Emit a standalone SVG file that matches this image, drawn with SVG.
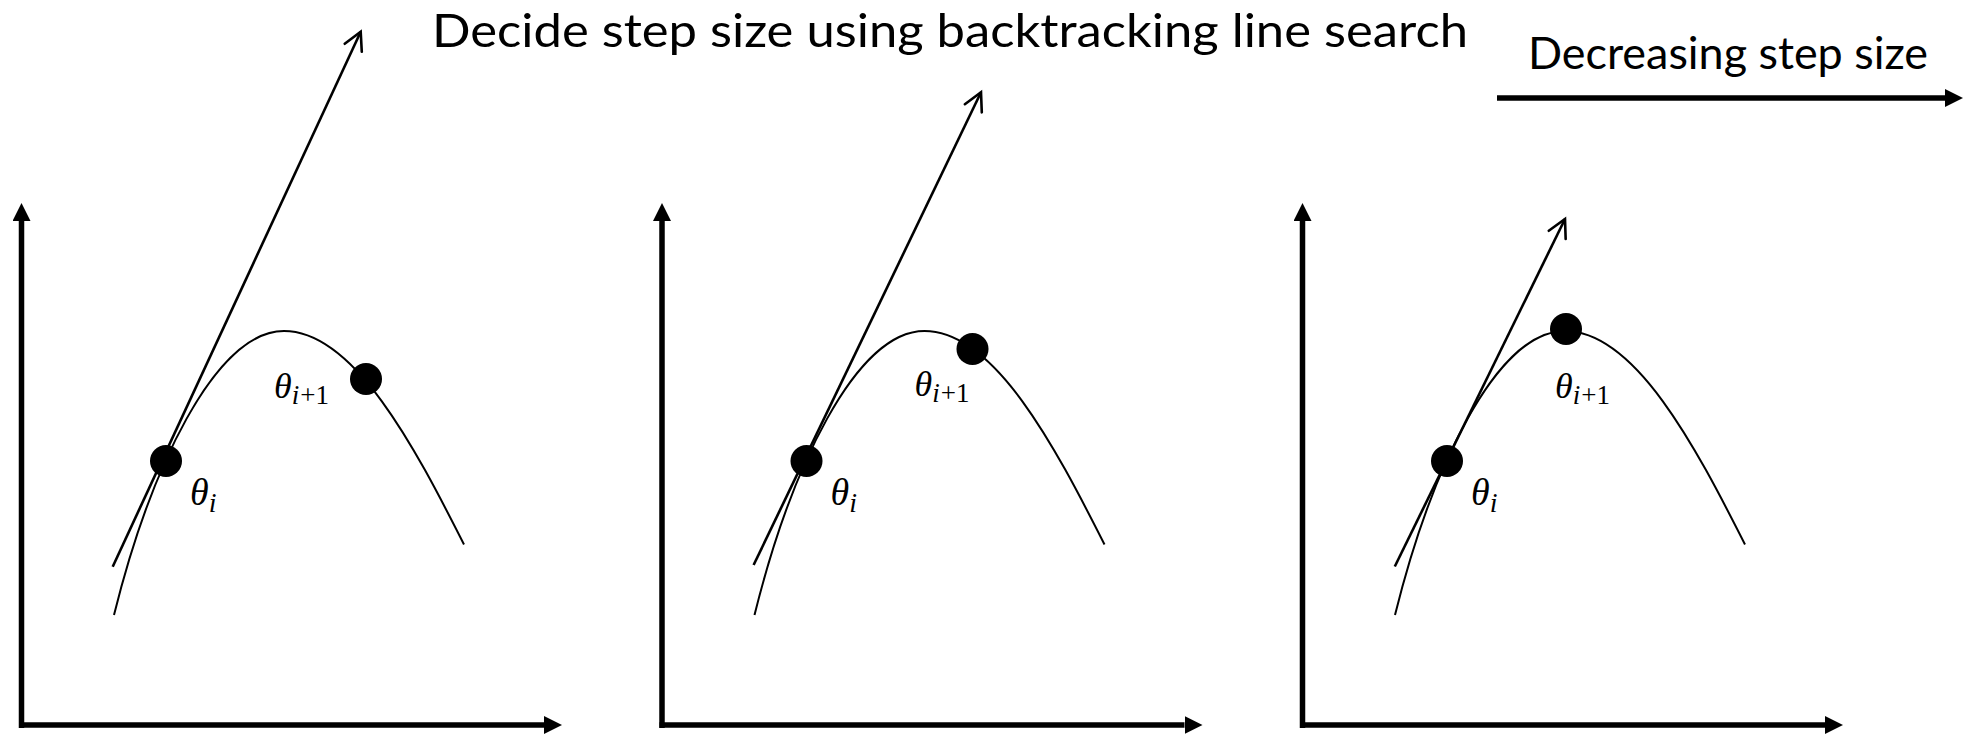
<svg xmlns="http://www.w3.org/2000/svg" width="1967" height="734" viewBox="0 0 1967 734">
<defs>
<style>
.axis{stroke:#000;stroke-width:5.5;fill:none}
.tan{stroke:#000;stroke-width:2.6;fill:none}
.curve{stroke:#000;stroke-width:2;fill:none}
.dot{fill:#000}
.title{font-family:Lato,"Open Sans",sans-serif;fill:#000}
.math{font-family:"Liberation Serif","DejaVu Serif",serif;font-style:italic;fill:#000}
.up{font-style:normal}
</style>
<marker id="fa" viewBox="0 0 18 18" refX="0" refY="9" markerWidth="18" markerHeight="18" markerUnits="userSpaceOnUse" orient="auto">
<path d="M0,0 L18,9 L0,18 z" fill="#000"/>
</marker>
<marker id="oa" viewBox="-22 -12 26 24" refX="0" refY="0" markerWidth="26" markerHeight="24" markerUnits="userSpaceOnUse" orient="auto">
<path d="M-17.7,-9.4 L0,0 L-17.7,9.4" fill="none" stroke="#000" stroke-width="2.6" stroke-linecap="round" stroke-linejoin="miter"/>
</marker>
<g id="panelBase">
<line class="axis" x1="21.5" y1="728" x2="21.5" y2="221" marker-end="url(#fa)"/>
<line class="axis" x1="19" y1="725" x2="544" y2="725" marker-end="url(#fa)"/>
<path class="curve" d="M114,615 C150,470 215,331 284,331 C354,331 414.5,446.6 464,544.5"/>
<circle class="dot" cx="166" cy="461" r="16"/>
<text class="math" x="190" y="505" font-size="38">θ<tspan font-size="28" dy="7">i</tspan></text>
</g>
</defs>

<g id="title">
<text class="title" x="432" y="46.5" font-size="47" textLength="1036" lengthAdjust="spacingAndGlyphs">Decide step size using backtracking line search</text>
</g>

<g id="decreasing">
<text class="title" x="1528" y="69" font-size="44" textLength="400" lengthAdjust="spacingAndGlyphs">Decreasing step size</text>
</g>

<g id="panel1">
<use href="#panelBase"/>
<circle class="dot" cx="366" cy="379" r="16"/>
<text class="math" x="274" y="398" font-size="36">θ<tspan font-size="27" dy="6">i</tspan><tspan class="up" font-size="27" dx="1">+1</tspan></text>
</g>

<g id="panel2" transform="translate(640.5,0)">
<use href="#panelBase"/>
<circle class="dot" cx="332" cy="349" r="16"/>
<text class="math" x="274" y="396" font-size="36">θ<tspan font-size="27" dy="6">i</tspan><tspan class="up" font-size="27" dx="1">+1</tspan></text>
</g>

<g id="panel3" transform="translate(1281,0)">
<use href="#panelBase"/>
<circle class="dot" cx="285" cy="329" r="16"/>
<text class="math" x="274" y="398" font-size="36">θ<tspan font-size="27" dy="6">i</tspan><tspan class="up" font-size="27" dx="1">+1</tspan></text>
</g>

<g id="connectors">
<line class="tan" x1="112.7" y1="566.7" x2="360.7" y2="31.7" marker-end="url(#oa)"/>
<line class="tan" x1="753.6" y1="565" x2="981" y2="92.3" marker-end="url(#oa)"/>
<line class="tan" x1="1394.8" y1="566.5" x2="1565" y2="219" marker-end="url(#oa)"/>
<line class="axis" x1="1497" y1="98" x2="1945" y2="98" marker-end="url(#fa)"/>
</g>
</svg>
